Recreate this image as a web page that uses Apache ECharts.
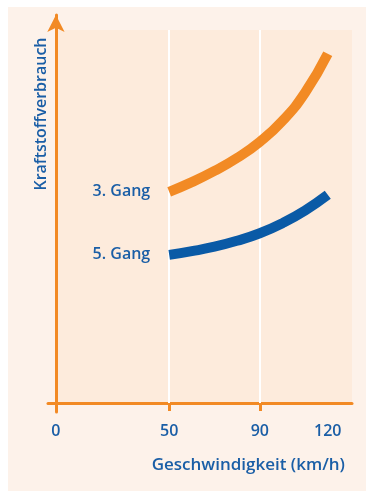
<!DOCTYPE html>
<html>
<head>
<meta charset="utf-8">
<script src="https://cdn.jsdelivr.net/npm/echarts@6/dist/echarts.min.js"></script>
<style>
  html, body { margin: 0; padding: 0; background: #ffffff; }
  #main { width: 366px; height: 491px; }
</style>
</head>
<body>
<div id="main"></div>
<script>
// Geschwindigkeit (km/h) gegen Kraftstoffverbrauch (ohne Skala)
var speeds = [50, 60, 70, 80, 90, 100, 110, 120];
var gang3 = [56.6, 59.2, 62.2, 65.7, 70.0, 75.6, 83.2, 93.6];
var gang5 = [39.7, 40.7, 41.9, 43.5, 45.5, 48.2, 51.6, 55.8];
var xTicks = [0, 50, 90, 120];
var xTickMarks = [0, 50, 90];
var gridLines = [50, 90];

var blue = '#1a5ea6';
var orange = '#f28a24';
var font = 'Open Sans';

function pairs(ys) {
    return speeds.map(function (x, i) { return [x, ys[i]]; });
}

var myChart = echarts.init(document.getElementById('main'));

myChart.setOption({
    animation: false,
    textStyle: { fontFamily: font },
    graphic: [
        {
            type: 'rect',
            z: -10,
            shape: { x: 8, y: 7, width: 358, height: 484 },
            style: { fill: '#fdf2ea' }
        },
        {
            type: 'text',
            x: 41,
            y: 114,
            rotation: Math.PI / 2,
            style: {
                text: 'Kraftstoffverbrauch',
                fill: blue,
                font: '600 16px "Open Sans"',
                align: 'center',
                verticalAlign: 'middle'
            }
        },
        {
            type: 'text',
            x: 345,
            y: 465,
            style: {
                text: 'Geschwindigkeit (km/h)',
                fill: blue,
                font: '600 17px "Open Sans"',
                align: 'right',
                verticalAlign: 'middle'
            }
        }
    ],
    grid: { left: 48, right: 14, top: 15, bottom: 79 },
    xAxis: {
        type: 'value',
        min: -3.5,
        max: 130.7,
        axisLine: { lineStyle: { color: orange, width: 3 } },
        axisTick: {
            customValues: xTickMarks,
            length: 8,
            lineStyle: { color: orange, width: 3 }
        },
        axisLabel: {
            customValues: xTicks,
            color: blue,
            fontSize: 16,
            fontWeight: 600,
            margin: 11
        },
        splitLine: { show: false }
    },
    yAxis: {
        type: 'value',
        min: -2.4,
        max: 104,
        axisLine: {
            show: true,
            symbol: ['none', 'arrow'],
            symbolSize: [13, 17],
            lineStyle: { color: orange, width: 3 }
        },
        axisTick: { show: false },
        axisLabel: { show: false },
        splitLine: { show: false }
    },
    series: [
        {
            name: '3. Gang',
            type: 'line',
            smooth: true,
            showSymbol: false,
            data: pairs(gang3),
            lineStyle: { color: orange, width: 10 },
            itemStyle: { color: orange },
            markArea: {
                silent: true,
                z: 0,
                itemStyle: { color: '#fdebdc' },
                data: [[{ coord: [0.4, 0] }, { coord: [130.7, 100] }]]
            },
            markLine: {
                silent: true,
                z: 1,
                symbol: 'none',
                label: { show: false },
                lineStyle: { color: '#ffffff', width: 2, type: 'solid' },
                data: gridLines.map(function (v) {
                    return [{ coord: [v, 0] }, { coord: [v, 100] }];
                })
            },
            markPoint: {
                symbol: 'circle',
                symbolSize: 0,
                label: {
                    show: true,
                    position: 'left',
                    distance: 19,
                    formatter: '3. Gang',
                    color: blue,
                    fontSize: 16,
                    fontWeight: 600
                },
                data: [{ coord: [speeds[0], gang3[0]] }]
            }
        },
        {
            name: '5. Gang',
            type: 'line',
            smooth: true,
            showSymbol: false,
            data: pairs(gang5),
            lineStyle: { color: '#0a5aa6', width: 10 },
            itemStyle: { color: '#0a5aa6' },
            markPoint: {
                symbol: 'circle',
                symbolSize: 0,
                label: {
                    show: true,
                    position: 'left',
                    distance: 19,
                    formatter: '5. Gang',
                    color: blue,
                    fontSize: 16,
                    fontWeight: 600
                },
                data: [{ coord: [speeds[0], gang5[0]] }]
            }
        }
    ]
});
</script>
</body>
</html>
